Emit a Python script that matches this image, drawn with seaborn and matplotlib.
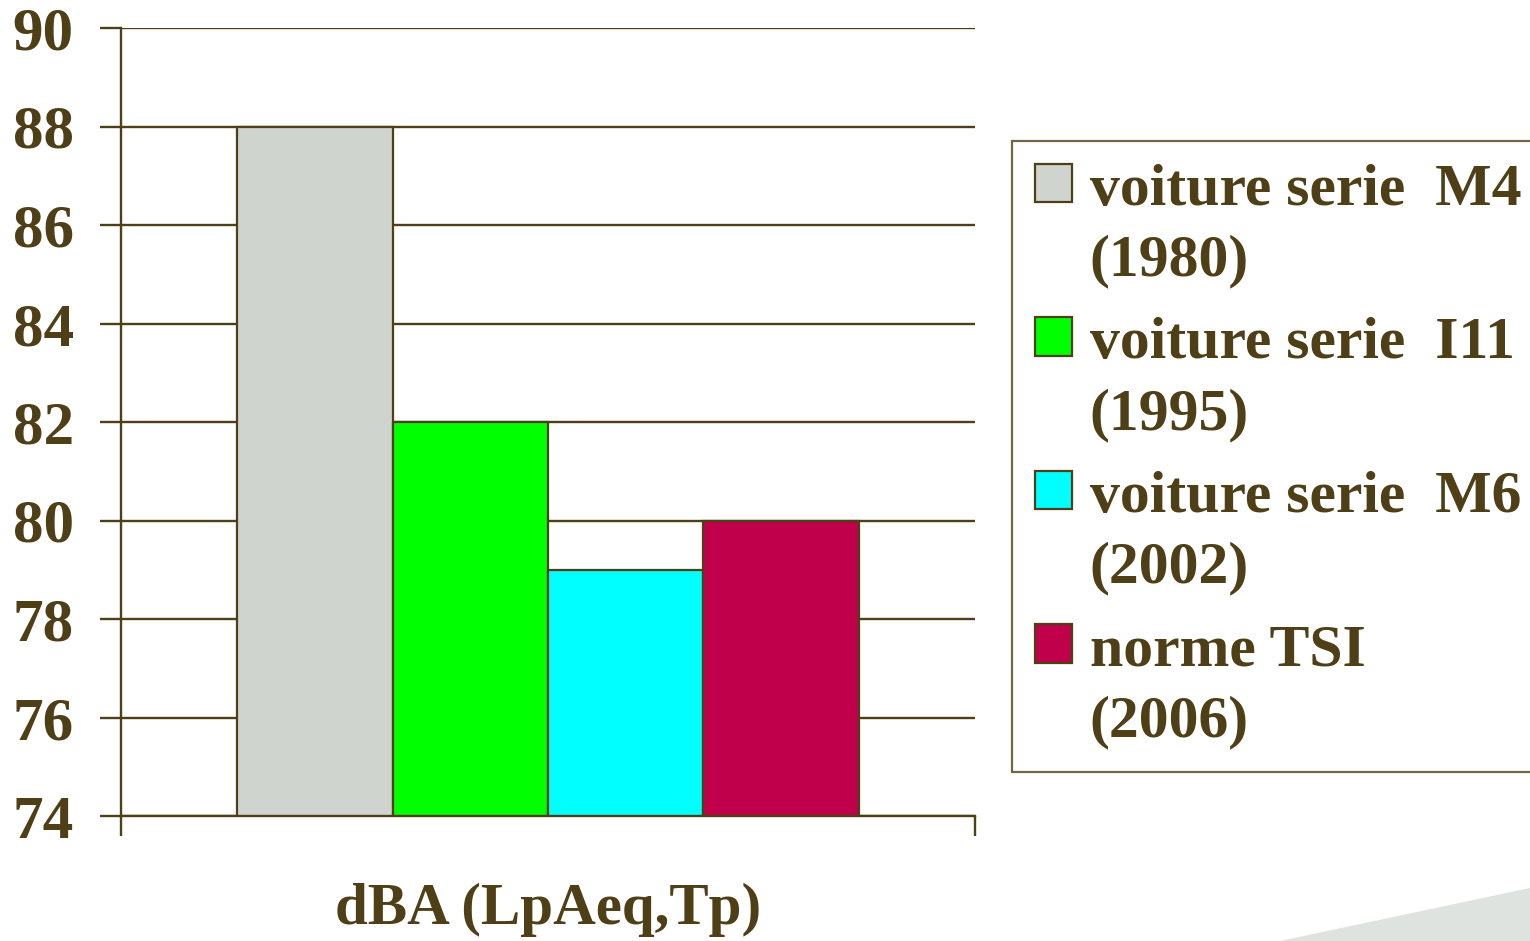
import matplotlib
matplotlib.use("Agg")
import matplotlib.pyplot as plt
from matplotlib.patches import Polygon
from matplotlib.ticker import FixedLocator
import seaborn as sns
import pandas as pd

categories = ["dBA (LpAeq,Tp)"]
series = ["voiture serie  M4\n(1980)", "voiture serie  I11\n(1995)",
          "voiture serie  M6\n(2002)", "norme TSI\n(2006)"]
values = [88, 82, 79, 80]
colors = ["#d0d4ce", "#00ff00", "#00ffff", "#c0004a"]
yticks = [74, 76, 78, 80, 82, 84, 86, 88, 90]

sns.set_style("white")
plt.rcParams["font.family"] = ["Liberation Serif", "DejaVu Serif"]
plt.rcParams["font.weight"] = "bold"

brown = "#4f3f17"

df = pd.DataFrame({"cat": categories * len(series), "series": series, "val": values})

fig = plt.figure(figsize=(15.3, 9.41), dpi=100)
ax = fig.add_axes([121 / 1530, 1 - 816 / 941, (975 - 121) / 1530, (816 - 28) / 941])

sns.barplot(data=df, x="cat", y="val", hue="series", hue_order=series,
            palette=colors, width=0.728, gap=0, edgecolor=brown, linewidth=1.6,
            saturation=1, ax=ax, legend=True, zorder=3)

ax.set_ylim(74, 90)
ax.set_xlim(-0.5, 0.5)
ax.set_yticks(yticks)
ax.set_yticklabels([str(v) for v in yticks], fontsize=44, fontweight="bold", color=brown)
ax.yaxis.grid(True, color=brown, linewidth=1.7)
ax.set_axisbelow(True)
ax.tick_params(axis="y", direction="out", length=15, width=1.7, color=brown, pad=19, left=True)
ax.set_xticks([0])
ax.set_xticklabels(categories, fontsize=42.5, fontweight="bold", color=brown)
ax.xaxis.set_minor_locator(FixedLocator([-0.5, 0.5]))
ax.tick_params(axis="x", which="major", length=0, pad=48)
ax.tick_params(axis="x", which="minor", direction="out", length=14.5, width=1.7, color=brown, bottom=True)
ax.set_xlabel("")
ax.set_ylabel("")
for s in ["top", "right"]:
    ax.spines[s].set_visible(False)
for s in ["left", "bottom"]:
    ax.spines[s].set_color(brown)
    ax.spines[s].set_linewidth(1.7)
    ax.spines[s].set_zorder(4)

handles, labels = ax.get_legend_handles_labels()
if ax.get_legend():
    ax.get_legend().remove()
leg = fig.legend(handles, labels, loc="upper left",
                 bbox_to_anchor=(1012 / 1530, 1 - 141 / 941), bbox_transform=fig.transFigure,
                 borderaxespad=0, frameon=True, fancybox=False, shadow=False,
                 prop={"family": "Liberation Serif", "weight": "bold", "size": 43},
                 handlelength=0.62, handleheight=0.62, handletextpad=0.3,
                 labelspacing=0.48, borderpad=0.38)
leg.get_frame().set_edgecolor(brown)
leg.get_frame().set_linewidth(1.6)
for t in leg.get_texts():
    t.set_color(brown)
    t.set_linespacing(1.41)
for col in leg._legend_handle_box.get_children():
    for hp in col.get_children():
        hp.align = "top"

fig.patches.append(Polygon([(1280 / 1530, 0), (1, 53 / 941), (1, 0)], closed=True,
                           transform=fig.transFigure, facecolor="#dfe3df", edgecolor="none", zorder=0))

fig.savefig("out.png", dpi=100)
